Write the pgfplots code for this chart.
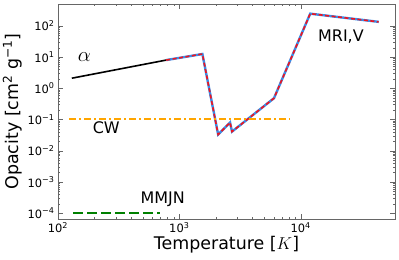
\documentclass[border=0pt]{standalone}
\usepackage{pgfplots}
\pgfplotsset{compat=1.18}
\usepackage{fontspec}
\setmainfont{DejaVu Sans}
\usetikzlibrary{calc}
\definecolor{mriblue}{RGB}{60,140,230}
\definecolor{mrired}{RGB}{240,20,30}
\definecolor{myorange}{RGB}{255,165,0}
\definecolor{mgreen}{RGB}{0,128,0}
\begin{document}
\begin{tikzpicture}
\begin{axis}[
  scale only axis,
  width=337bp, height=215bp,
  xmode=log, ymode=log,
  xmin=100, xmax=60000,
  ymin=6.5e-5, ymax=5e2,
  axis line style={black!60},
  tick style={black!60},
  major tick length=5bp, minor tick length=2.5bp,
  tick align=inside,
  xtick={100,1000,10000},
  xticklabels={10\textsuperscript{2},10\textsuperscript{3},10\textsuperscript{4}},
  ytick={1e-4,1e-3,1e-2,1e-1,1,10,100},
  yticklabels={10\textsuperscript{−4},10\textsuperscript{−3},10\textsuperscript{−2},10\textsuperscript{−1},10\textsuperscript{0},10\textsuperscript{1},10\textsuperscript{2}},
  ticklabel style={font=\fontsize{11.5}{13}\selectfont},
  xlabel={Temperature [$K$]},
  ylabel={Opacity [cm\textsuperscript{2} g\textsuperscript{−1}]},
  label style={font=\fontsize{17.5}{19}\selectfont},
  xlabel style={yshift=4bp},
  ylabel style={yshift=-1bp},
]
\addplot[black, line width=1.6bp] coordinates {(130,2.1) (780,8.0)};
\addplot[mriblue, line width=2.4bp] coordinates {
 (780,8.0) (1550,12.5) (2090,0.033) (2620,0.08) (2720,0.041) (6030,0.48) (12000,245) (44000,134)};
\addplot[mrired, line width=1.6bp, dash pattern=on 4bp off 2.5bp] coordinates {
 (780,8.0) (1550,12.5) (2090,0.033) (2620,0.08) (2720,0.041) (6030,0.48) (12000,245) (44000,134)};
\addplot[myorange, line width=2bp, dash pattern=on 7bp off 3bp on 2bp off 3bp] coordinates {(123,0.1) (8100,0.1)};
\addplot[mgreen, line width=1.6bp, dash pattern=on 10bp off 4bp] coordinates {(133,1e-4) (690,1e-4)};
\node[font=\fontsize{20}{22}\selectfont] at (axis cs:165,10) {$\alpha$};
\node[font=\fontsize{16}{18}\selectfont] at (axis cs:250,0.053) {CW};
\node[font=\fontsize{16}{18}\selectfont] at (axis cs:730,2.8e-4) {MMJN};
\node[font=\fontsize{16}{18}\selectfont] at (axis cs:21500,44) {MRI,V};
\end{axis}
\pgfresetboundingbox
\path[use as bounding box] ($(current axis.south west)+(-58bp,-41bp)$) rectangle ($(current axis.north east)+(4bp,4bp)$);
\end{tikzpicture}
\end{document}
